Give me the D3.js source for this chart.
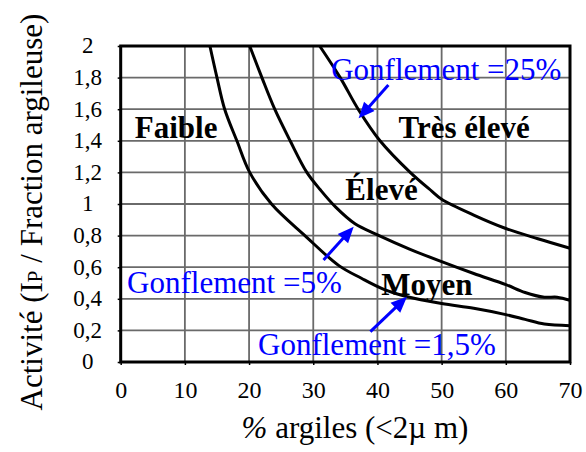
<!DOCTYPE html>
<html><head><meta charset="utf-8">
<script src="https://cdn.jsdelivr.net/npm/d3@7"></script>
<style>
html,body{margin:0;padding:0;background:#fff;}
svg{display:block;}
</style></head>
<body><svg id="c" width="586" height="452" font-family="Liberation Serif"></svg>
<script>
// ---- data ----
const xTicks = [0, 10, 20, 30, 40, 50, 60, 70];
const yTicks = [0, 0.2, 0.4, 0.6, 0.8, 1, 1.2, 1.4, 1.6, 1.8, 2];
const yTickLabels = ["0", "0,2", "0,4", "0,6", "0,8", "1", "1,2", "1,4", "1,6", "1,8", "2"];

const swell15X = [13.9, 15, 16.2, 18.1, 20.1, 23.5, 28.7, 34, 37.5, 41, 44.5, 50, 55, 60, 63, 66, 70];
const swell15Y = [2.0, 1.8, 1.6, 1.4, 1.2, 1.0, 0.8, 0.61, 0.53, 0.46, 0.415, 0.37, 0.34, 0.30, 0.27, 0.24, 0.23];

const swell5X = [20.1, 22, 24, 26.4, 29, 31.1, 33.5, 36.5, 40, 45, 50, 55, 60, 63, 66, 68, 70];
const swell5Y = [2.0, 1.8, 1.6, 1.4, 1.2, 1.09, 0.98, 0.875, 0.805, 0.715, 0.635, 0.56, 0.49, 0.44, 0.41, 0.41, 0.39];

const swell25X = [31, 34.2, 37, 40.4, 45.1, 48.5, 50, 55, 60, 65, 70];
const swell25Y = [2.0, 1.8, 1.6, 1.4, 1.2, 1.08, 1.03, 0.93, 0.845, 0.78, 0.72];

const zoneNames = ["Faible", "Très élevé", "Élevé", "Moyen"];
const zoneX = [2.2, 43.3, 35.0, 40.6];
const zoneY = [1.418, 1.418, 1.025, 0.424];

const swellLabels = ["Gonflement =25%", "Gonflement =5%", "Gonflement =1,5%"];
const swellLabelX = [32.8, 1.0, 21.4];
const swellLabelY = [1.785, 0.437, 0.044];
const arrowFromX = [41.7, 31.6, 38.9];
const arrowFromY = [1.753, 0.646, 0.192];
const arrowToX = [37.07, 36.3, 44.6];
const arrowToY = [1.542, 0.856, 0.413];

// ---- chart ----
const FONT = "Liberation Serif";
const svg = d3.select("#c");
const x = d3.scaleLinear().domain([0, 70]).range([120.7, 570]);
const y = d3.scaleLinear().domain([0, 2]).range([362, 46]);

// grid
svg.append("g").selectAll("line").data(xTicks).join("line")
  .attr("x1", d => x(d)).attr("x2", d => x(d)).attr("y1", y(0)).attr("y2", y(2))
  .attr("stroke", "#6a6a6a").attr("stroke-width", 1.8);
svg.append("g").selectAll("line").data(yTicks).join("line")
  .attr("x1", x(0)).attr("x2", x(70)).attr("y1", d => y(d)).attr("y2", d => y(d))
  .attr("stroke", "#6a6a6a").attr("stroke-width", 1.8);

// axes (d3 axes, restyled)
const xAxis = svg.append("g").attr("transform", `translate(0,${y(0)})`)
  .call(d3.axisBottom(x).tickValues(xTicks).tickSize(3).tickPadding(16));
xAxis.attr("font-family", FONT).attr("font-size", 24);
xAxis.select(".domain").remove();
xAxis.selectAll("line").attr("stroke", "#000").attr("stroke-width", 1.5);
xAxis.selectAll("text").attr("font-family", FONT).attr("style", "font-family:'Liberation Serif'")
  .attr("font-size", 24).attr("fill", "#000");

const yAxis = svg.append("g").attr("transform", `translate(${x(0)},0)`)
  .call(d3.axisLeft(y).tickValues(yTicks).tickFormat((d, i) => yTickLabels[i]).tickSize(3).tickPadding(16));
yAxis.attr("font-family", FONT).attr("font-size", 23);
yAxis.select(".domain").remove();
yAxis.selectAll("line").attr("stroke", "#000").attr("stroke-width", 1.5);
yAxis.selectAll("text").attr("font-family", FONT).attr("style", "font-family:'Liberation Serif'")
  .attr("font-size", 23).attr("fill", "#000")
  .attr("text-anchor", "middle").attr("x", -33).attr("dy", "0.3em");

// frame
svg.append("rect").attr("x", x(0)).attr("y", y(2)).attr("width", x(70) - x(0)).attr("height", y(0) - y(2))
  .attr("fill", "none").attr("stroke", "#000").attr("stroke-width", 3);

// curves
const line = d3.line().x(d => x(d[0])).y(d => y(d[1])).curve(d3.curveCatmullRom.alpha(0.5));
[[swell15X, swell15Y], [swell5X, swell5Y], [swell25X, swell25Y]].forEach(([xs, ys]) => {
  svg.append("path").attr("d", line(xs.map((v, i) => [v, ys[i]])))
    .attr("fill", "none").attr("stroke", "#000").attr("stroke-width", 3);
});

// zone labels
svg.append("g").selectAll("text").data(zoneNames).join("text")
  .attr("x", (d, i) => x(zoneX[i])).attr("y", (d, i) => y(zoneY[i]))
  .attr("font-family", FONT).attr("style", "font-family:'Liberation Serif'")
  .attr("font-size", 31).attr("font-weight", "bold").attr("fill", "#000").text(d => d);

// swell labels
svg.append("g").selectAll("text").data(swellLabels).join("text")
  .attr("x", (d, i) => x(swellLabelX[i])).attr("y", (d, i) => y(swellLabelY[i]))
  .attr("font-family", FONT).attr("style", "font-family:'Liberation Serif'")
  .attr("font-size", 31).attr("fill", "#0000ff").text(d => d);

// arrows (shaft + head polygon), all positions from the scales
const headLen = 16, headHalf = 7;
arrowFromX.forEach((fx, i) => {
  const x1 = x(fx), y1 = y(arrowFromY[i]), x2 = x(arrowToX[i]), y2 = y(arrowToY[i]);
  const dx = x2 - x1, dy = y2 - y1, L = Math.hypot(dx, dy), ux = dx / L, uy = dy / L;
  const bx = x2 - ux * headLen, by = y2 - uy * headLen;
  svg.append("line").attr("x1", x1).attr("y1", y1).attr("x2", bx + ux * 2).attr("y2", by + uy * 2)
    .attr("stroke", "#0000ff").attr("stroke-width", 3);
  svg.append("path")
    .attr("d", `M${x2},${y2}L${bx - uy * headHalf},${by + ux * headHalf}L${bx + uy * headHalf},${by - ux * headHalf}Z`)
    .attr("fill", "#0000ff");
});

// axis titles
const xt = svg.append("text").attr("x", 355).attr("y", 438).attr("text-anchor", "middle")
  .attr("font-family", FONT).attr("style", "font-family:'Liberation Serif'").attr("font-size", 31).attr("fill", "#000");
xt.append("tspan").attr("font-style", "italic").text("%");
xt.append("tspan").text(" argiles (<2µ m)");
const yt = svg.append("text").attr("transform", "translate(42,212) rotate(-90)")
  .attr("text-anchor", "middle").attr("font-family", FONT).attr("style", "font-family:'Liberation Serif'")
  .attr("font-size", 31).attr("fill", "#000");
yt.append("tspan").text("Activité (I");
yt.append("tspan").attr("font-size", 21).text("P");
yt.append("tspan").text(" / Fraction argileuse)");
</script></body></html>
